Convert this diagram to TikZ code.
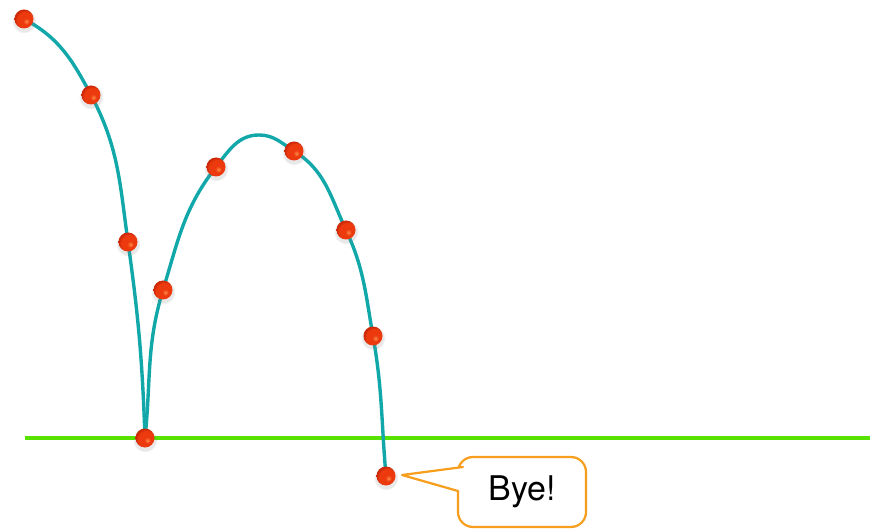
\documentclass[tikz,border=0pt]{standalone}
\usepackage{fontspec}
\setmainfont{TeX Gyre Heros}
\usetikzlibrary{shadows}
\definecolor{pathteal}{RGB}{18,168,170}
\definecolor{groundgreen}{RGB}{88,226,0}
\definecolor{bubbleorange}{RGB}{247,158,28}
\definecolor{ballhi}{RGB}{255,140,70}
\definecolor{ballred}{RGB}{236,58,14}
\definecolor{balledge}{RGB}{205,40,8}
\pgfdeclareradialshading{glossyball}{\pgfpoint{7bp}{-7bp}}{%
  color(0bp)=(ballhi); color(8bp)=(ballred); color(22bp)=(ballred);
  color(27bp)=(balledge); color(50bp)=(balledge)}

\begin{document}
\begin{tikzpicture}[x=1pt,y=-1pt,line cap=round,line join=round,
    ball/.style={circle,inner sep=0pt,minimum size=19pt,shading=glossyball,
      circular drop shadow={shadow xshift=0pt,shadow yshift=-1.5pt,shadow scale=1.3,opacity=.18}},
    track/.style={pathteal,line width=3.4pt},
    bubble/.style={draw=bubbleorange,line width=2.2pt,fill=white,rounded corners=15pt,
      minimum width=128pt,minimum height=70pt,font=\fontsize{34}{38}\selectfont}]
  \useasboundingbox (0,0) rectangle (870,529);

  % ground
  \coordinate (gl) at (25,438);
  \coordinate (gr) at (870,438);
  \draw[groundgreen,line width=3.6pt,line cap=butt] (gl) -- (gr);

  % ball positions
  \coordinate (p1) at (24,19);
  \coordinate (p2) at (91,95);
  \coordinate (p3) at (128,242);
  \coordinate (p4) at (145,438);
  \coordinate (p5) at (163,290);
  \coordinate (p6) at (216,167);
  \coordinate (top) at (259,135);
  \coordinate (p7) at (294,151);
  \coordinate (p8) at (346,230);
  \coordinate (p9) at (373,336);
  \coordinate (p10) at (386,476);

  % trajectory (angles measured on the page)
  \draw[track] (p1) to[out=-28,in=118] (p2) to[out=-62,in=98] (p3)
    to[out=-82,in=92] (p4);
  \draw[track] (p4) to[out=84,in=-107] (p5) to[out=73,in=-128] (p6)
    to[out=52,in=180] (top) to[out=0,in=148] (p7) to[out=-32,in=115] (p8)
    to[out=-65,in=100] (p9) to[out=-80,in=95] (p10);

  \foreach \i in {1,...,10}
    \node[ball] (b\i) at (p\i) {};

  % speech bubble
  \node[bubble] (bye) at (522,492) {Bye!};
  \coordinate (tip) at (402,475);
  \coordinate (ptop) at (463,467);
  \coordinate (pbot) at (458,491);
  \fill[white] ([xshift=3pt]ptop) -- (tip) -- ([xshift=3pt]pbot) -- cycle;
  \draw[bubbleorange,line width=2.2pt] (ptop) -- (tip) -- (pbot);
\end{tikzpicture}
\end{document}
